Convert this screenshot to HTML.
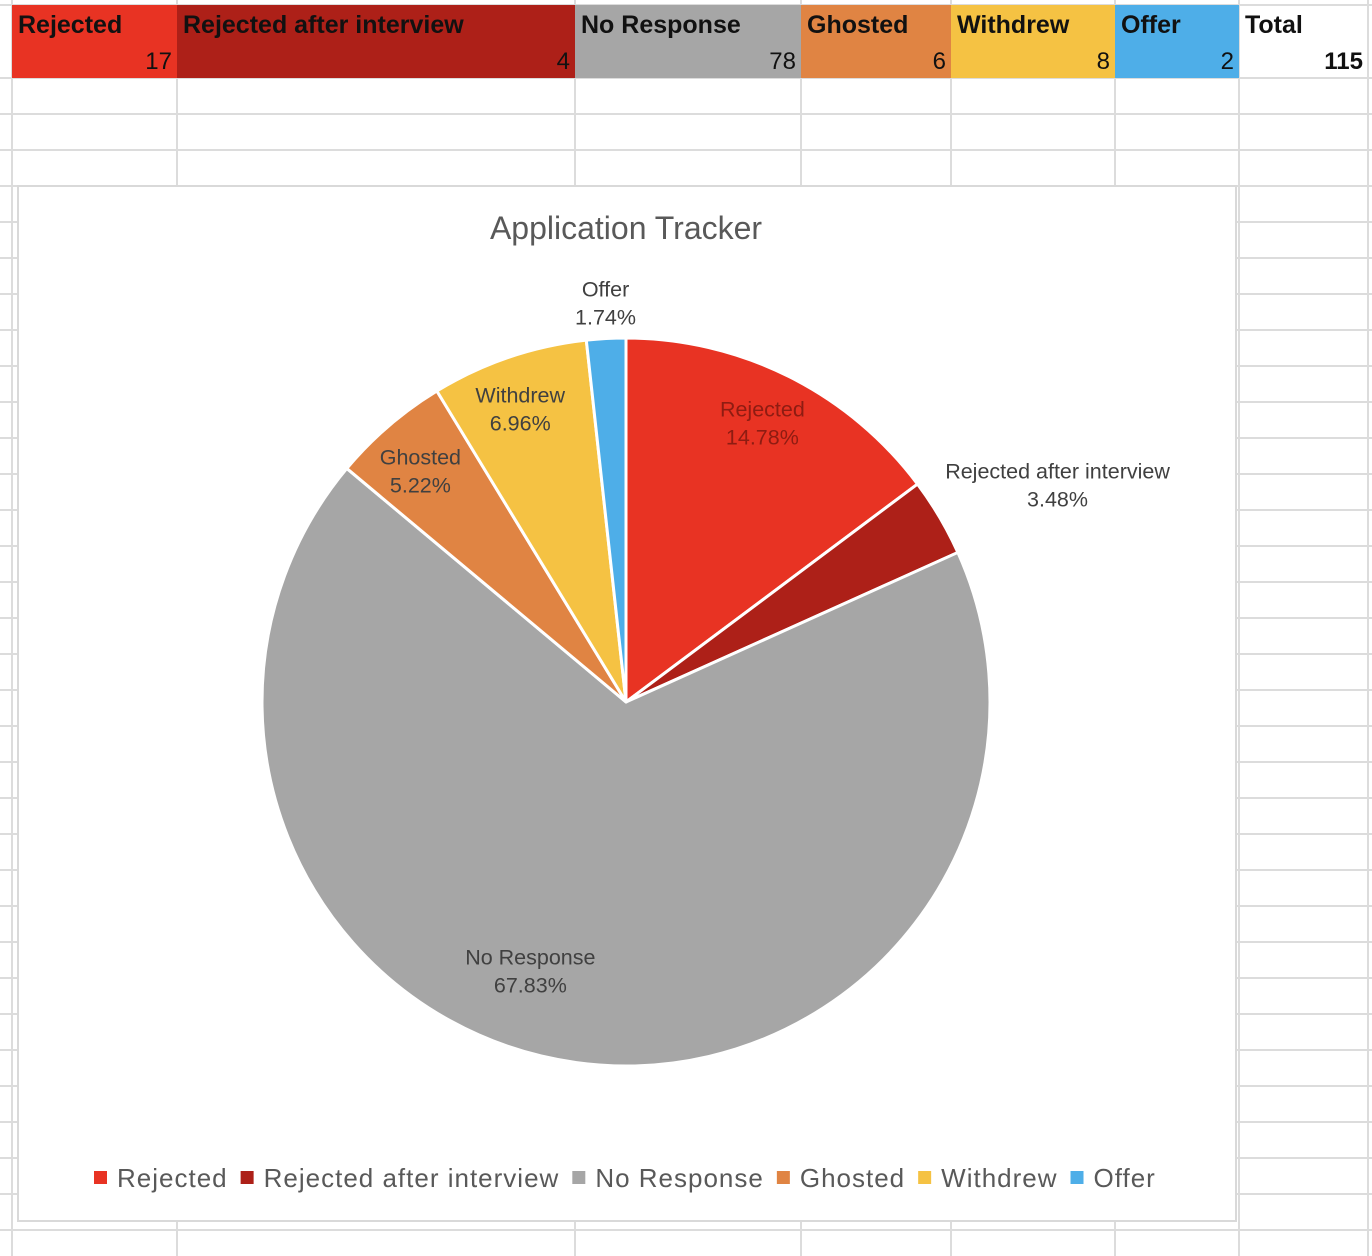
<!DOCTYPE html>
<html><head><meta charset="utf-8"><style>
body{margin:0;background:#fff;}
svg{display:block;font-family:"Liberation Sans",sans-serif;}
</style></head><body>
<svg id="s" width="1372" height="1256" viewBox="0 0 1372 1256">
<g id="grid"></g>
<g id="table"></g>
<rect x="18" y="186" width="1218" height="1035" fill="#fff" stroke="#d9d9d9" stroke-width="2"/>
<text x="626" y="239" text-anchor="middle" font-size="32" fill="#595959">Application Tracker</text>
<g id="pie"></g>
<g id="labels"></g>
<g id="legend"></g>
</svg>
<script>
const categories=["Rejected","Rejected after interview","No Response","Ghosted","Withdrew","Offer"];
const values=[17,4,78,6,8,2];
const colors=["#e83323","#ad2018","#a6a6a6","#e08443","#f5c243","#4eaee8"];
const NS="http://www.w3.org/2000/svg";
function mk(t,a,p){const e=document.createElementNS(NS,t);for(const k in a)e.setAttribute(k,a[k]);p.appendChild(e);return e;}
const grid=document.getElementById('grid');
[12,177,575,801,951,1115,1239,1368].forEach(x=>{const l=mk('line',{x1:x,y1:0,x2:x,y2:1256,stroke:'#dcdcdc','stroke-width':2},grid);

});
[5,78,114,150].concat(Array.from({length:30},(_,i)=>186+36*i)).forEach(y=>{const l=mk('line',{x1:0,y1:y,x2:1372,y2:y,stroke:'#dcdcdc','stroke-width':2},grid);

});
const total=values.reduce((a,b)=>a+b,0);
const tb=document.getElementById('table');
const colX=[12,177,575,801,951,1115,1239,1368];
categories.concat(["Total"]).forEach((c,i)=>{
 const x0=colX[i],x1=colX[i+1];
 if(i<6){const r=mk('rect',{x:x0,y:5,width:x1-x0,height:73,fill:colors[i]},tb);
 
 }
 const h=mk('text',{x:x0+6,y:33,'font-size':25,'font-weight':'bold',fill:'#111'},tb);h.textContent=c;
 
 
 const v=mk('text',{x:x1-5,y:69,'font-size':24,'text-anchor':'end',fill:'#111','font-weight':i==6?'bold':'normal'},tb);
 v.textContent=i<6?values[i]:total;
 
 
});
const cx=626,cy=702,R=364;
const pie=document.getElementById('pie');
let a=0;const mids=[];
function pt(ang,r){return [cx+r*Math.sin(ang),cy-r*Math.cos(ang)];}
values.forEach((v,i)=>{
 const a0=a,a1=a+v/total*2*Math.PI;a=a1;mids.push((a0+a1)/2);
 const p0=pt(a0,R),p1=pt(a1,R);
 const s=mk('path',{d:`M${cx},${cy}L${p0[0]},${p0[1]}A${R},${R} 0 ${a1-a0>Math.PI?1:0} 1 ${p1[0]},${p1[1]}Z`,fill:colors[i],stroke:'#fff','stroke-width':3,'stroke-linejoin':'round'},pie);
 
 
});
const lab=document.getElementById('labels');
const lr=[0.72,1.22,0.82,0.82,0.8,1.13];
const ldx=[19,4,-55,-11,-12,2],ldy=[-45,18,-27,-5,-18,11];
values.forEach((v,i)=>{
 let [x,y]=pt(mids[i],R*lr[i]);
 if(i==1){x+=45;y-=10;}
 x+=ldx[i];y+=ldy[i];
 const t=mk('text',{x:x,'text-anchor':'middle','font-size':21.5,fill:i==0?'#8e1c12':'#404040'},lab);
 
 
 const t1=mk('tspan',{x:x,y:y-6},t);t1.textContent=categories[i];
 const t2=mk('tspan',{x:x,y:y+22},t);t2.textContent=(v/total*100).toFixed(2)+'%';
});
const lg=document.getElementById('legend');
let lx=94;
categories.forEach((c,i)=>{
 const r=mk('rect',{x:lx,y:1171,width:13,height:13,fill:colors[i]},lg);
 
 
 const t=mk('text',{x:lx+23,y:1187,'font-size':26,'letter-spacing':1,fill:'#595959'},lg);t.textContent=c;
 
 
 lx+=23+t.getComputedTextLength()+13;
});
</script>
</body></html>
